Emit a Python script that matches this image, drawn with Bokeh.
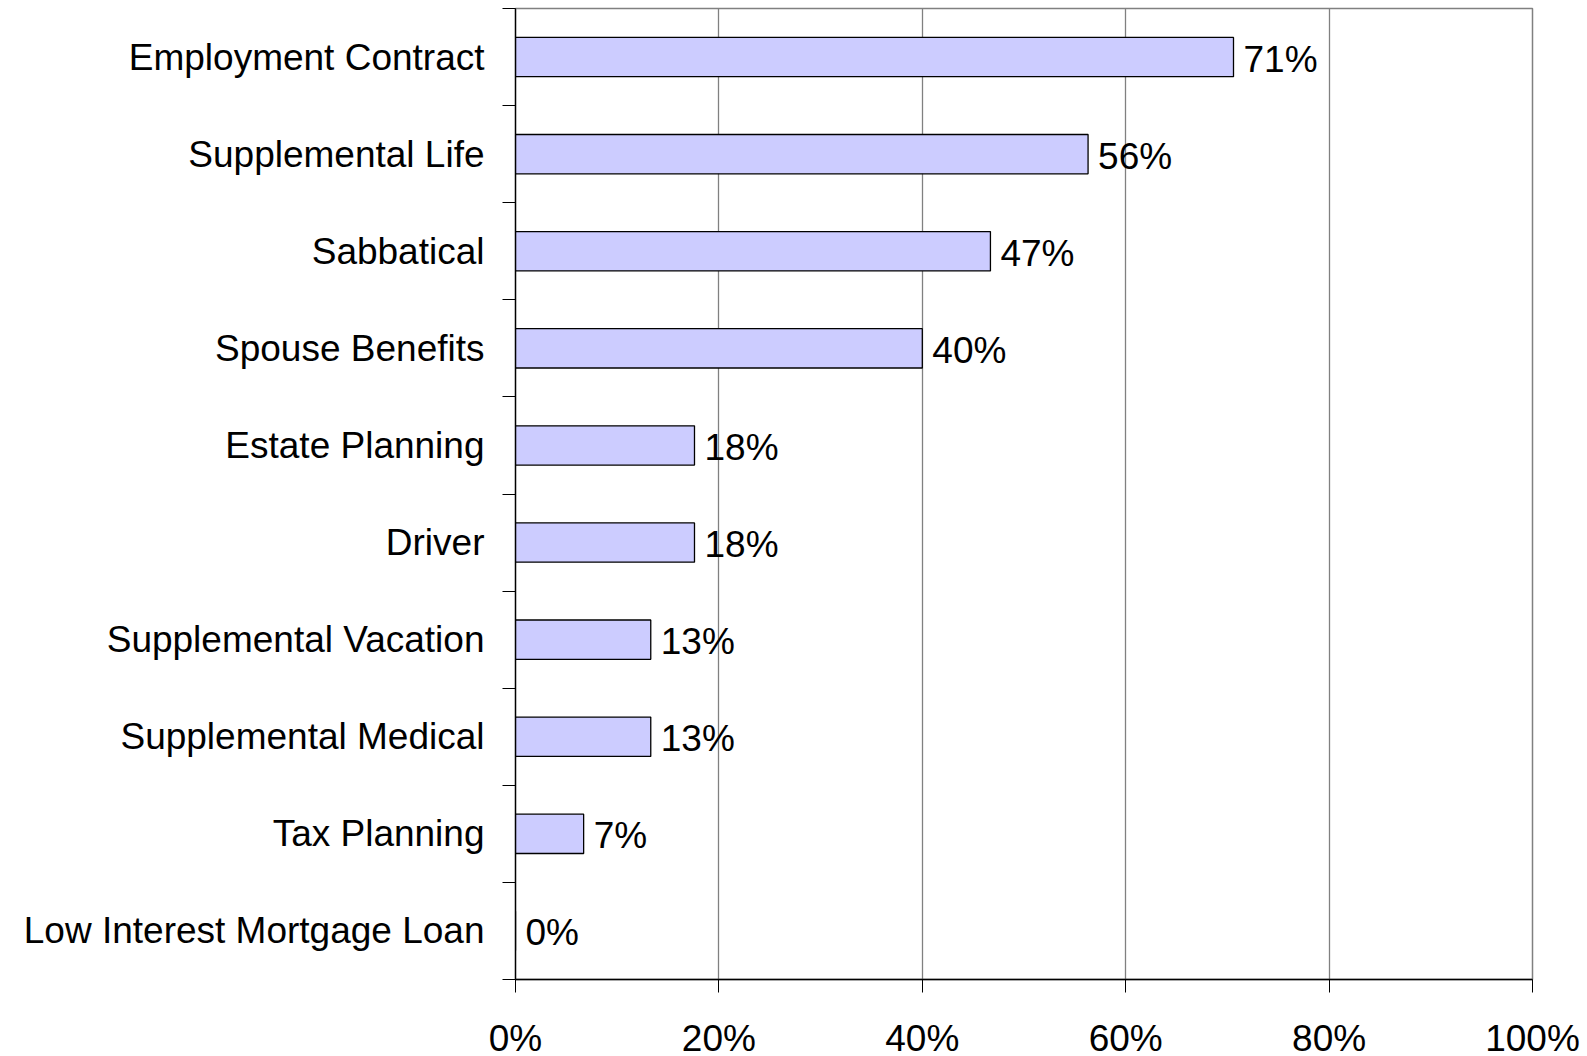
from bokeh.plotting import figure
from bokeh.models import FixedTicker, Range1d, ColumnDataSource
from bokeh.embed import file_html
from bokeh.resources import INLINE
from bokeh.core.properties import value

categories = [
    "Employment Contract",
    "Supplemental Life",
    "Sabbatical",
    "Spouse Benefits",
    "Estate Planning",
    "Driver",
    "Supplemental Vacation",
    "Supplemental Medical",
    "Tax Planning",
    "Low Interest Mortgage Loan",
]
values = [70.6, 56.3, 46.7, 40.0, 17.6, 17.6, 13.3, 13.3, 6.7, 0.0]
value_labels = ["71%", "56%", "47%", "40%", "18%", "18%", "13%", "13%", "7%", "0%"]
x_ticks = [0, 20, 40, 60, 80, 100]
x_tick_labels = ["0%", "20%", "40%", "60%", "80%", "100%"]

n = len(categories)
centers = [n - i - 0.5 for i in range(n)]

FONT = "Liberation Sans"
FS = "37px"

p = figure(
    frame_width=1017, frame_height=971,
    x_range=Range1d(0, 100), y_range=Range1d(0, n),
    output_backend="svg", toolbar_location=None,
    min_border_left=515, min_border_right=55, min_border_top=8, min_border_bottom=40,
)
p.background_fill_color = "white"
p.border_fill_color = "white"
p.outline_line_color = "#808080"
p.outline_line_width = 1.5

src = ColumnDataSource(dict(y=centers, v=values, lab=value_labels, cat=categories))
p.hbar(y="y", left=0, right="v", height=0.405, source=src,
       fill_color="#CCCCFF", line_color="black", line_width=1.3)
p.text(x="v", y="y", text="lab", source=src, x_offset=10, y_offset=2,
       text_font=value(FONT), text_font_size=FS, text_color="black",
       text_baseline="middle", text_align="left")

# x axis
xa = p.xaxis[0]
xa.ticker = FixedTicker(ticks=x_ticks, minor_ticks=[])
xa.major_label_overrides = {t: l for t, l in zip(x_ticks, x_tick_labels)}
xa.major_tick_out = 13
xa.major_tick_in = 0
xa.minor_tick_out = 0
xa.minor_tick_in = 0
xa.major_label_standoff = 25
xa.major_label_text_font = FONT
xa.major_label_text_font_size = FS
xa.major_label_text_color = "black"
xa.axis_line_color = "black"
xa.axis_line_width = 1.3
xa.major_tick_line_color = "black"
xa.major_tick_line_width = 1

# y axis: labels at centers, ticks at boundaries via minor ticks
ya = p.yaxis[0]
ya.ticker = FixedTicker(ticks=centers, minor_ticks=list(range(n + 1)))
ya.major_label_overrides = {c: cat for c, cat in zip(centers, categories)}
ya.major_tick_out = 0
ya.major_tick_in = 0
ya.major_tick_line_color = None
ya.minor_tick_out = 13
ya.minor_tick_in = 0
ya.minor_tick_line_color = "black"
ya.minor_tick_line_width = 1
ya.major_label_standoff = 18
ya.major_label_text_font = FONT
ya.major_label_text_font_size = FS
ya.major_label_text_color = "black"
ya.axis_line_color = "black"
ya.axis_line_width = 1.3

p.xgrid.ticker = FixedTicker(ticks=x_ticks)
p.xgrid.grid_line_color = "#808080"
p.xgrid.grid_line_width = 1.3
p.ygrid.grid_line_color = None

open("out.html", "w").write(file_html(p, INLINE))
